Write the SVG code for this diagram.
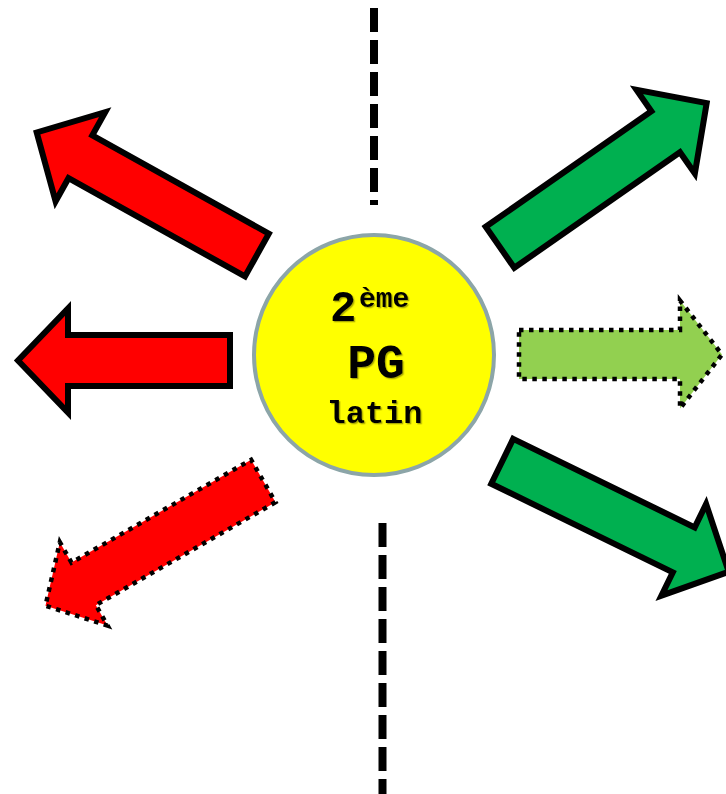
<svg xmlns="http://www.w3.org/2000/svg" width="726" height="794" viewBox="0 0 726 794">
<style>
.solid{stroke:#000;stroke-width:6;stroke-linejoin:miter}
.dotted{stroke:#000;stroke-width:4.5;stroke-dasharray:4.5 5.5;stroke-linejoin:miter}
.red{fill:#FF0000}
.green{fill:#00B050}
.lgreen{fill:#92D050}
.axis{stroke:#000;stroke-width:8;stroke-dasharray:24 8;fill:none}
.lbl{font-family:"Courier New","Liberation Mono",monospace;font-weight:bold;fill:#000;filter:url(#sh)}
</style>
<defs>
<filter id="sh" x="-20%" y="-20%" width="140%" height="140%">
<feDropShadow dx="1.3" dy="1.3" stdDeviation="0.6" flood-color="#5a5a00" flood-opacity="0.5"/>
</filter>
</defs>
<g id="connectors">
<line class="axis" x1="374" y1="8" x2="374" y2="205"/>
<line class="axis" x1="382.5" y1="523" x2="382.5" y2="800"/>
</g>
<g id="arrow-top-left">
<polygon class="red solid" transform="translate(256.9 255) rotate(209.1)" points="0,-24.5 202,-24.5 202,-51 252,0 202,51 202,24.5 0,24.5"/>
</g>
<g id="arrow-left">
<polygon class="red solid" transform="translate(230 360.5) rotate(180)" points="0,-25.5 162,-25.5 162,-52 212,0 162,52 162,25.5 0,25.5"/>
</g>
<g id="arrow-bottom-left">
<polygon class="red dotted" transform="translate(263.3 481) rotate(150.2)" points="0,-24.5 207,-24.5 207,-48 251,0 207,48 207,24.5 0,24.5"/>
</g>
<g id="arrow-top-right">
<polygon class="green solid" transform="translate(500 247.3) rotate(-34.9)" points="0,-25 202,-25 202,-51 252,0 202,51 202,25 0,25"/>
</g>
<g id="arrow-right">
<polygon class="lgreen dotted" transform="translate(519 354.5) rotate(0)" points="0,-24.5 161,-24.5 161,-54 203,0 161,54 161,24.5 0,24.5"/>
</g>
<g id="arrow-bottom-right">
<polygon class="green solid" transform="translate(502.2 461.3) rotate(26)" points="0,-25 202,-25 202,-51 252,0 202,51 202,25 0,25"/>
</g>
<g id="center">
<circle cx="374" cy="355" r="120" fill="#FFFF00" stroke="#8CA5A8" stroke-width="4"/>
<text class="lbl"><tspan x="330" y="321" font-size="44">2</tspan><tspan x="359" y="307" font-size="28">ème</tspan></text>
<text class="lbl" x="376" y="378" font-size="48" text-anchor="middle">PG</text>
<text class="lbl" x="374.5" y="423" font-size="32" text-anchor="middle">latin</text>
</g>
</svg>
